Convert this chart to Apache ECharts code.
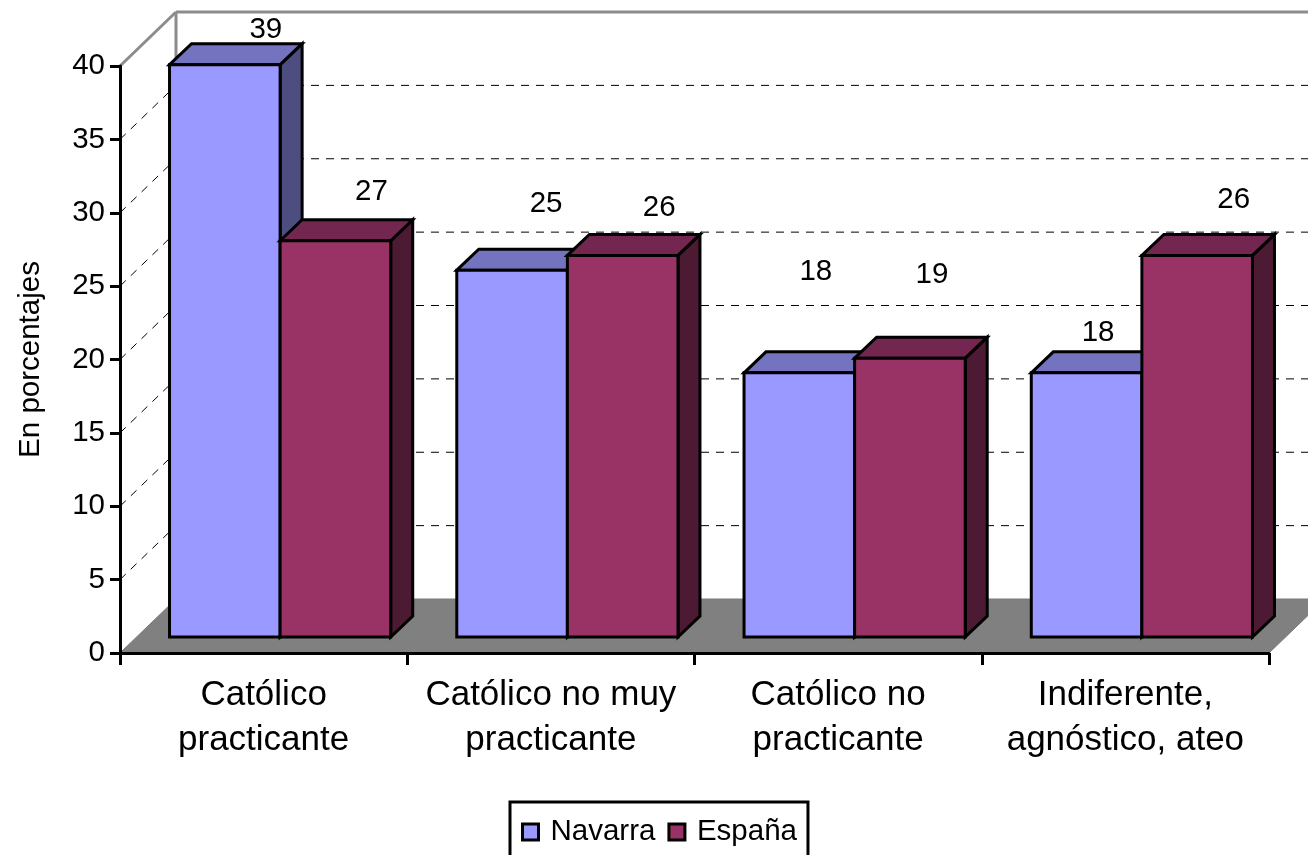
<!DOCTYPE html>
<html><head><meta charset="utf-8">
<style>html,body{margin:0;padding:0;background:#fff;overflow:hidden}#c{width:1308px;height:855px}</style>
<script src="https://cdn.jsdelivr.net/npm/echarts@6/dist/echarts.min.js"></script>
</head><body><div id="c"></div>
<script>
// ---- data ----
var categories = ['Católico\npracticante', 'Católico no muy\npracticante', 'Católico no\npracticante', 'Indiferente,\nagnóstico, ateo'];
var navarra = [39, 25, 18, 18];
var espana = [27, 26, 19, 26];
var yTicks = [0, 5, 10, 15, 20, 25, 30, 35, 40];
var seriesNames = ['Navarra', 'España'];
var axisName = 'En porcentajes';

// ---- layout and style ----
var FONT = '"Liberation Sans", Arial, sans-serif';
var FS = 29.5;
var FS_CAT = 35;
var STROKE = 3;
var WALL = [56, -54];      // projection of the wall depth
var BAR_DEPTH = [22, -21]; // projection of a bar's depth
var BAR_SHIFT = [16.5, -16];
var BAR_FRAC = 0.385;
// how far each value label floats from the centre of its bar's top edge
var labelNudge = [
  [[41, -35], [34, -66], [16.5, -101], [11.5, -40]],
  [[36, -49], [36.5, -48], [22, -83], [36.5, -56]]
];
var palette = [
  { front: '#9999FF', top: '#7373BF', side: '#4D4D80' },
  { front: '#993366', top: '#732650', side: '#4D1A33' }
];

function poly(points, fill) {
  return { type: 'polygon', shape: { points: points },
    style: { fill: fill, stroke: '#000', lineWidth: STROKE, lineJoin: 'miter' } };
}
function line(a, b, stroke, width, dash) {
  return { type: 'line', shape: { x1: a[0], y1: a[1], x2: b[0], y2: b[1] },
    style: { stroke: stroke, lineWidth: width, lineDash: dash || null, fill: null } };
}
function barRenderer(seriesIdx) {
  return function (params, api) {
    var i = api.value(0), v = api.value(1);
    var band = api.size([1, 0])[0];
    var w = band * BAR_FRAC;
    var c = api.coord([i, v]);
    var base = api.coord([i, 0])[1] + BAR_SHIFT[1];
    var top = c[1] + BAR_SHIFT[1];
    var x0 = c[0] + BAR_SHIFT[0] + (seriesIdx === 0 ? -w : 0);
    var x1 = x0 + w;
    var dx = BAR_DEPTH[0], dy = BAR_DEPTH[1];
    var col = palette[seriesIdx];
    var n = labelNudge[seriesIdx][i];
    return { type: 'group', children: [
      poly([[x1, top], [x1 + dx, top + dy], [x1 + dx, base + dy], [x1, base]], col.side),
      poly([[x0, top], [x0 + dx, top + dy], [x1 + dx, top + dy], [x1, top]], col.top),
      poly([[x0, top], [x1, top], [x1, base], [x0, base]], col.front),
      { type: 'text', x: (x0 + x1) / 2 + n[0], y: top + n[1],
        style: { text: String(v), fill: '#000', font: FS + 'px ' + FONT, align: 'center', verticalAlign: 'middle' } }
    ] };
  };
}
function wallRenderer(params, api) {
  var v = api.value(0);
  var cs = params.coordSys;
  var y = api.coord([0, v])[1];
  var L = [cs.x, y], R = [cs.x + cs.width, y];
  var bL = [L[0] + WALL[0], y + WALL[1]], bR = [R[0] + WALL[0], y + WALL[1]];
  if (v === 0) {
    return { type: 'group', children: [
      { type: 'polygon', shape: { points: [L, R, bR, bL] }, style: { fill: '#808080', stroke: '#7a7a7a', lineWidth: 1 } }
    ] };
  }
  if (v === yTicks[yTicks.length - 1]) {
    var y0 = api.coord([0, 0])[1] + WALL[1];
    return { type: 'group', children: [
      line(L, bL, '#8c8c8c', 3),
      line(bL, bR, '#8c8c8c', 3),
      line(bL, [bL[0], y0], '#8c8c8c', 3)
    ] };
  }
  return { type: 'group', children: [
    line(L, bL, '#000', 1, [8, 7]),
    line(bL, bR, '#000', 1, [8, 7])
  ] };
}

var chart = echarts.init(document.getElementById('c'), null, { renderer: 'canvas' });
chart.setOption({
  animation: false,
  backgroundColor: '#fff',
  grid: { left: 120, right: 39, top: 66, bottom: 202, containLabel: false },
  legend: {
    left: 510, top: 802,
    data: seriesNames.map(function (n, k) {
      return { name: n, icon: 'rect', itemStyle: { color: palette[k].front, borderColor: '#000', borderWidth: STROKE } };
    }),
    itemWidth: 16, itemHeight: 16, itemGap: 12,
    padding: [15, 11, 30, 11],
    backgroundColor: '#fff', borderColor: '#000', borderWidth: STROKE,
    textStyle: { fontFamily: FONT, fontSize: FS, color: '#000', padding: [0, 0, 0, 7] },
    selectedMode: false
  },
  xAxis: {
    type: 'category', data: categories, z: 5,
    axisLine: { lineStyle: { color: '#000', width: STROKE } },
    axisTick: { show: true, alignWithLabel: false, length: 12, lineStyle: { color: '#000', width: STROKE } },
    axisLabel: { fontFamily: FONT, fontSize: FS_CAT, color: '#000', lineHeight: 45, margin: 20, interval: 0 },
    splitLine: { show: false }
  },
  yAxis: {
    type: 'value', min: 0, max: 40, interval: 5, z: 5,
    name: axisName, nameLocation: 'middle', nameGap: 74, nameRotate: 90,
    nameTextStyle: { fontFamily: FONT, fontSize: FS, color: '#000' },
    axisLine: { show: true, lineStyle: { color: '#000', width: STROKE } },
    axisTick: { show: true, length: 10, lineStyle: { color: '#000', width: STROKE } },
    axisLabel: { fontFamily: FONT, fontSize: FS, color: '#000', margin: 15 },
    splitLine: { show: false }
  },
  series: [
    { type: 'custom', name: 'walls', coordinateSystem: 'cartesian2d', silent: true, z: 1,
      renderItem: wallRenderer, data: yTicks.map(function (t) { return [t]; }), encode: { y: 0 } },
    { type: 'custom', name: seriesNames[0], coordinateSystem: 'cartesian2d', z: 2,
      itemStyle: { color: palette[0].front },
      renderItem: barRenderer(0), encode: { x: 0, y: 1 },
      data: navarra.map(function (v, i) { return [i, v]; }) },
    { type: 'custom', name: seriesNames[1], coordinateSystem: 'cartesian2d', z: 3,
      itemStyle: { color: palette[1].front },
      renderItem: barRenderer(1), encode: { x: 0, y: 1 },
      data: espana.map(function (v, i) { return [i, v]; }) }
  ]
});
</script></body></html>
